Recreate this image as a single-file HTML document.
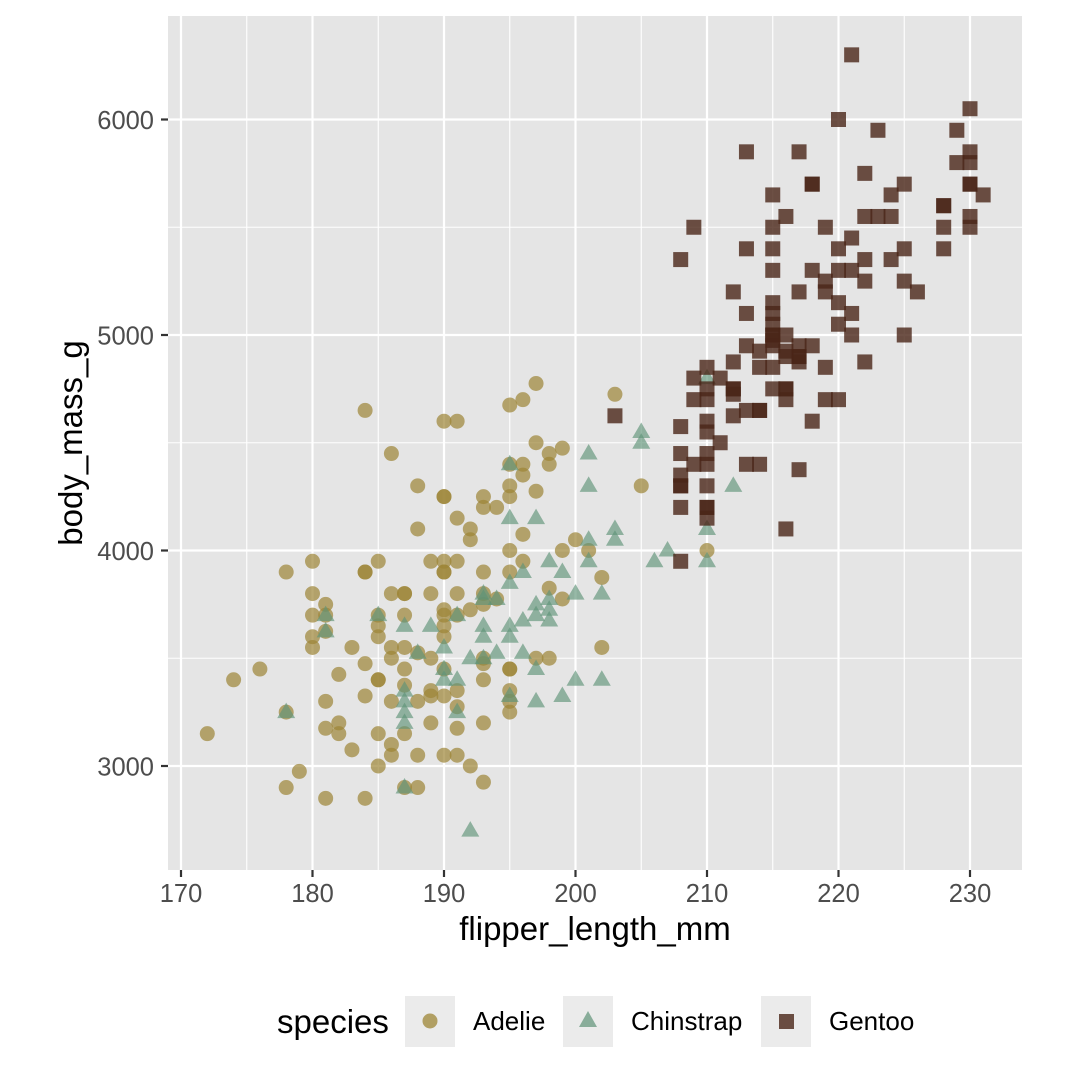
<!DOCTYPE html>
<html><head><meta charset="utf-8"><style>body{margin:0;background:#fff}svg{display:block}</style></head>
<body>
<svg id="s" width="1080" height="1080" xmlns="http://www.w3.org/2000/svg" font-family="Liberation Sans, sans-serif">
<rect width="1080" height="1080" fill="#fff"/>
<rect x="168" y="16" width="854" height="854" fill="#e5e5e5"/>
<g id="grid"></g>
<g id="pts"></g>
<g id="ax" fill="#4d4d4d" font-size="25.5"></g>
<text x="595" y="940" font-size="33" text-anchor="middle" fill="#000">flipper_length_mm</text>
<text transform="translate(82,443) rotate(-90)" font-size="33" text-anchor="middle" fill="#000">body_mass_g</text>
<text x="277" y="1033" font-size="33" fill="#000">species</text>
<rect x="405" y="996" width="50" height="51" fill="#ebebeb"/>
<circle cx="430" cy="1021" r="7.5" fill="#9d8536" fill-opacity="0.75"/>
<text x="473" y="1030" font-size="26">Adelie</text>
<rect x="563" y="996" width="50" height="51" fill="#ebebeb"/>
<polygon points="588,1011 597,1027 579,1027" fill="#5f9378" fill-opacity="0.7"/>
<text x="631" y="1030" font-size="26">Chinstrap</text>
<rect x="761" y="996" width="50" height="51" fill="#ebebeb"/>
<rect x="779" y="1014" width="15" height="15" fill="#4a2518" fill-opacity="0.8"/>
<text x="829" y="1030" font-size="26">Gentoo</text>
</svg>
<script>
const X=v=>181+(v-170)*13.15, Y=v=>766-(v-3000)*0.2155;
const ns="http://www.w3.org/2000/svg";
function el(p,t,a,txt){const e=document.createElementNS(ns,t);for(const k in a)e.setAttribute(k,a[k]);if(txt!=null)e.textContent=txt;document.getElementById(p).appendChild(e);}
for(let v=175;v<=225;v+=10)el("grid","line",{x1:X(v),x2:X(v),y1:16,y2:870,stroke:"#fff","stroke-width":1.1});
for(let v of [3500,4500,5500])el("grid","line",{x1:168,x2:1022,y1:Y(v),y2:Y(v),stroke:"#fff","stroke-width":1.1});
for(let v=170;v<=230;v+=10){el("grid","line",{x1:X(v),x2:X(v),y1:16,y2:870,stroke:"#fff","stroke-width":2.2});
 el("ax","line",{x1:X(v),x2:X(v),y1:870,y2:877,stroke:"#333","stroke-width":2.2});
 el("ax","text",{x:X(v),y:902,"text-anchor":"middle"},v);}
for(let v=3000;v<=6000;v+=1000){el("grid","line",{x1:168,x2:1022,y1:Y(v),y2:Y(v),stroke:"#fff","stroke-width":2.2});
 el("ax","line",{x1:161,x2:168,y1:Y(v),y2:Y(v),stroke:"#333","stroke-width":2.2});
 el("ax","text",{x:154,y:Y(v)+9.5,"text-anchor":"end"},v);}
const A=[[172,3150],[174,3400],[176,3450],[178,3900],[178,3250],[178,2900],[179,2975],[180,3950],[180,3800],[180,3700],[180,3600],[180,3550],[181,3750],[181,3700],[181,3625],[181,3300],[181,3175],[181,2850],[182,3425],[182,3200],[182,3150],[183,3550],[183,3075],[184,4650],[184,3900],[184,3900],[184,3475],[184,3325],[184,2850],[185,3950],[185,3700],[185,3650],[185,3600],[185,3400],[185,3400],[185,3150],[185,3000],[186,4450],[186,3800],[186,3550],[186,3500],[186,3300],[186,3100],[186,3050],[187,3800],[187,3800],[187,3700],[187,3550],[187,3450],[187,3375],[187,3150],[187,2900],[188,4300],[188,4100],[188,3525],[188,3300],[188,3050],[188,2900],[189,3950],[189,3800],[189,3500],[189,3350],[189,3325],[189,3200],[190,4600],[190,4250],[190,4250],[190,3950],[190,3900],[190,3900],[190,3725],[190,3700],[190,3650],[190,3600],[190,3450],[190,3325],[190,3050],[191,4600],[191,4150],[191,3950],[191,3800],[191,3700],[191,3350],[191,3275],[191,3175],[191,3050],[192,4050],[192,4100],[192,3725],[192,3000],[193,4250],[193,4200],[193,3900],[193,3800],[193,3750],[193,3500],[193,3475],[193,3400],[193,3200],[193,2925],[194,4200],[194,3775],[195,4675],[195,4400],[195,4300],[195,4250],[195,4000],[195,3900],[195,3450],[195,3450],[195,3350],[195,3300],[195,3250],[196,4700],[196,4400],[196,4350],[196,4075],[196,3950],[197,4775],[197,4500],[197,4275],[197,3500],[198,4450],[198,4400],[198,3825],[198,3500],[199,4475],[199,4000],[199,3775],[200,4050],[201,4000],[202,3875],[202,3550],[203,4725],[205,4300],[210,4000]];
const C=[[178,3250],[181,3700],[181,3625],[185,3700],[187,3650],[187,3350],[187,3250],[187,3200],[187,3300],[187,2900],[188,3525],[189,3650],[190,3550],[190,3400],[190,3450],[191,3700],[191,3400],[191,3250],[192,3500],[192,2700],[193,3800],[193,3775],[193,3650],[193,3600],[193,3500],[194,3775],[194,3525],[195,4400],[195,4150],[195,3850],[195,3650],[195,3600],[195,3325],[196,3900],[196,3675],[196,3525],[197,4150],[197,3750],[197,3700],[197,3450],[197,3300],[198,3950],[198,3775],[198,3725],[198,3675],[199,3900],[199,3325],[200,3800],[200,3400],[201,4450],[201,4300],[201,4050],[201,3950],[202,3800],[202,3400],[203,4100],[203,4050],[205,4550],[205,4500],[206,3950],[207,4000],[210,4800],[210,4100],[210,3950],[212,4300]];
const G=[[203,4625],[208,5350],[208,4575],[208,4450],[208,4300],[208,4300],[208,4200],[208,3950],[208,4350],[209,4800],[209,4700],[209,4400],[209,5500],[210,4850],[210,4700],[210,4600],[210,4550],[210,4450],[210,4400],[210,4300],[210,4200],[210,4200],[210,4150],[210,4750],[211,4800],[211,4500],[212,5200],[212,4875],[212,4750],[212,4750],[212,4725],[212,4625],[213,5850],[213,5400],[213,5100],[213,4950],[213,4650],[213,4400],[214,4925],[214,4850],[214,4650],[214,4650],[214,4400],[215,5650],[215,5500],[215,5400],[215,5300],[215,5150],[215,5100],[215,5050],[215,5000],[215,5000],[215,4975],[215,4950],[215,4850],[215,4750],[216,5550],[216,5000],[216,4925],[216,4900],[216,4750],[216,4750],[216,4700],[216,4100],[217,5850],[217,5200],[217,4900],[217,4900],[217,4875],[217,4950],[217,4375],[218,5700],[218,5700],[218,5300],[218,4950],[218,4600],[219,5250],[219,5200],[219,4850],[219,4700],[219,5500],[220,6000],[220,5400],[220,5300],[220,5150],[220,5050],[220,4700],[221,6300],[221,5450],[221,5300],[221,5100],[221,5000],[222,5750],[222,5550],[222,5350],[222,5250],[222,4875],[223,5950],[223,5550],[224,5650],[224,5550],[224,5350],[225,5700],[225,5400],[225,5250],[225,5000],[226,5200],[228,5600],[228,5600],[228,5500],[228,5400],[229,5950],[229,5800],[230,6050],[230,5850],[230,5800],[230,5700],[230,5700],[230,5550],[230,5500],[231,5650]];
for(const[a,b]of A)el("pts","circle",{cx:X(a),cy:Y(b),r:7.5,fill:"#9d8536","fill-opacity":0.7});
for(const[a,b]of C){const x=X(a),y=Y(b);el("pts","polygon",{points:`${x},${y-9.5} ${x+9},${y+6} ${x-9},${y+6}`,fill:"#5f9378","fill-opacity":0.65});}
for(const[a,b]of G)el("pts","rect",{x:X(a)-7.5,y:Y(b)-7.5,width:15,height:15,fill:"#4a2518","fill-opacity":0.8});
</script>
</body></html>
